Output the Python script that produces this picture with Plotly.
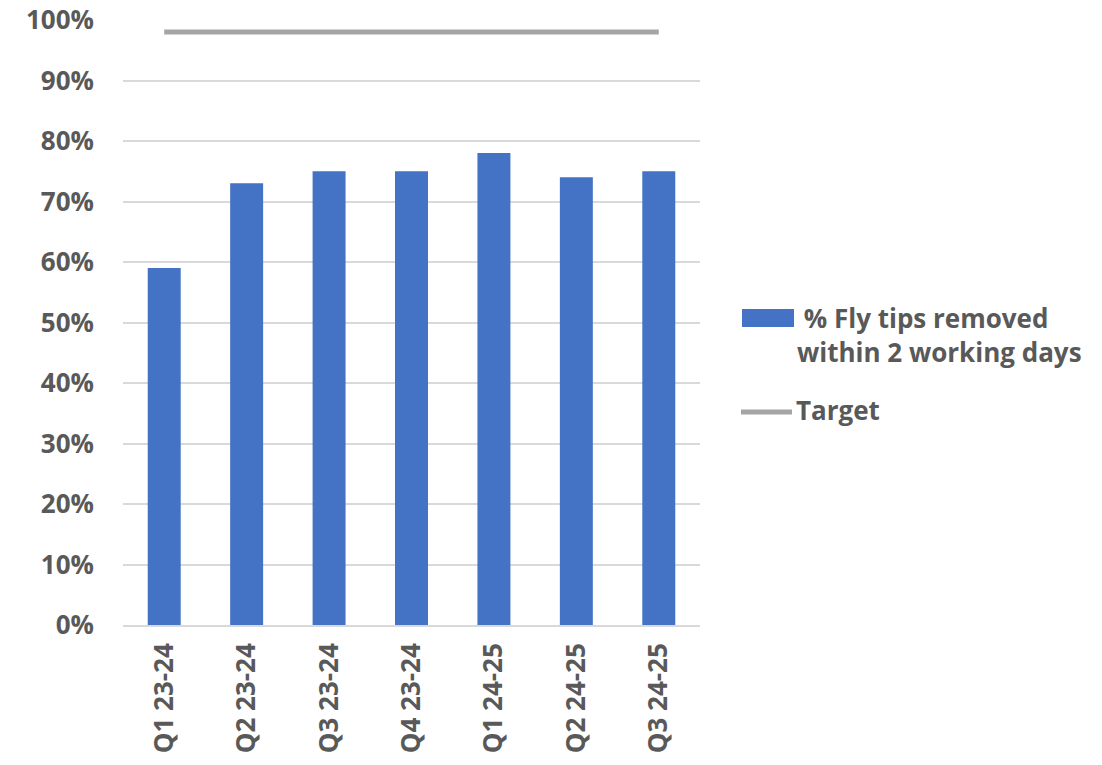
import plotly.graph_objects as go

quarters = ["Q1 23-24", "Q2 23-24", "Q3 23-24", "Q4 23-24", "Q1 24-25", "Q2 24-25", "Q3 24-25"]
removed_pct = [0.59, 0.73, 0.75, 0.75, 0.78, 0.74, 0.75]
target_pct = [0.98, 0.98, 0.98, 0.98, 0.98, 0.98, 0.98]
y_ticks = [0, 0.1, 0.2, 0.3, 0.4, 0.5, 0.6, 0.7, 0.8, 0.9, 1.0]

BAR_COLOR = "#4472C4"
TARGET_COLOR = "#A5A5A5"
TEXT_COLOR = "#595959"
FONT = "'Open Sans', sans-serif"
FS = 26

W, H = 1102, 765
ML, MR, MT, MB = 123, 402, 20, 140
PW = W - ML - MR
PH = H - MT - MB

fig = go.Figure()
fig.add_trace(go.Bar(
    x=quarters, y=removed_pct, marker_color=BAR_COLOR,
    marker_line_width=0, name="% Fly tips removed within 2 working days",
    showlegend=False,
))
fig.add_trace(go.Scatter(
    x=quarters, y=target_pct, mode="lines",
    line=dict(color=TARGET_COLOR, width=5), name="Target", showlegend=False,
))


def px_x(p):
    return (p - ML) / PW


def px_y(p):
    return 1 - (p - MT) / PH


# legend drawn by hand: bar swatch and line swatch with labels
fig.add_shape(type="rect", xref="paper", yref="paper",
              x0=px_x(742), x1=px_x(794), y0=px_y(327), y1=px_y(309),
              fillcolor=BAR_COLOR, line_width=0)
fig.add_shape(type="line", xref="paper", yref="paper",
              x0=px_x(741), x1=px_x(792), y0=px_y(412), y1=px_y(412),
              line=dict(color=TARGET_COLOR, width=5))
fig.add_annotation(xref="paper", yref="paper", x=px_x(795), y=px_y(335),
                   xanchor="left", yanchor="middle", align="left", showarrow=False,
                   text=" % Fly tips removed<br>within 2 working days",
                   font=dict(family=FONT, size=FS, color=TEXT_COLOR, weight="bold"))
fig.add_annotation(xref="paper", yref="paper", x=px_x(794), y=px_y(410),
                   xanchor="left", yanchor="middle", align="left", showarrow=False,
                   text="Target",
                   font=dict(family=FONT, size=FS, color=TEXT_COLOR, weight="bold"))

fig.update_layout(
    width=W, height=H,
    margin=dict(l=ML, r=MR, t=MT, b=MB, autoexpand=False),
    paper_bgcolor="white", plot_bgcolor="white",
    bargap=0.6,
    font=dict(family=FONT, size=FS, color=TEXT_COLOR, weight="bold"),
    xaxis=dict(
        tickangle=-90, showgrid=False, showline=True, linecolor="#D9D9D9",
        linewidth=1.5, ticks="", automargin=False, ticklabelstandoff=6,
        tickfont=dict(size=FS, weight="bold"),
    ),
    yaxis=dict(
        range=[0, 1], tickvals=y_ticks, tickformat=".0%",
        showgrid=True, gridcolor="#D9D9D9", gridwidth=1.5, automargin=False,
        zeroline=False, showline=False, ticks="", ticklabelstandoff=28,
        tickfont=dict(size=FS, weight="bold"),
    ),
)

fig.write_html("out.html")
